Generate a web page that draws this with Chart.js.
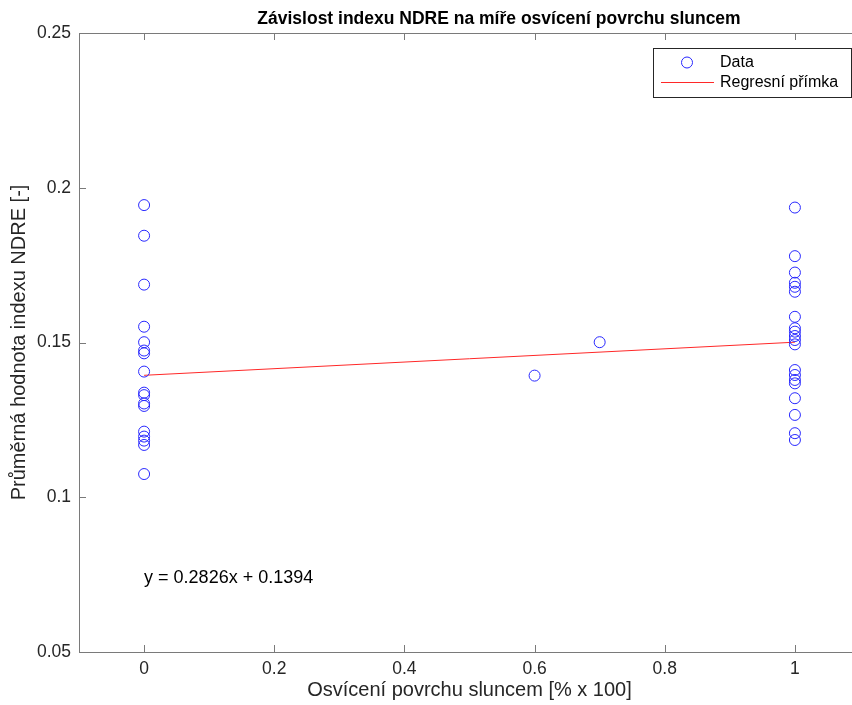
<!DOCTYPE html>
<html>
<head>
<meta charset="utf-8">
<script src="https://cdn.jsdelivr.net/npm/chart.js@4/dist/chart.umd.min.js"></script>
<style>
  html, body { margin: 0; padding: 0; background: #fff; overflow: hidden; }
  #wrap { width: 852px; height: 705px; overflow: hidden; }
</style>
</head>
<body>
<div id="wrap"><canvas id="myChart" width="870" height="705"></canvas></div>
<script>
// sunlit share of the surface (0 = shade, 1 = full sun) and mean NDRE per plot
const shadeNdre = [0.1944, 0.1845, 0.1687, 0.1551, 0.1501, 0.1474, 0.1465, 0.1406, 0.1338,
                   0.1330, 0.1303, 0.1295, 0.1212, 0.1196, 0.1183, 0.1169, 0.1075]
const partialSun = [0.6, 0.7]
const partialNdre = [0.1393, 0.1501]
const sunNdre = [0.1936, 0.1779, 0.1726, 0.1693, 0.1680, 0.1664, 0.1583, 0.1546, 0.1535, 0.1521,
                 0.1508, 0.1494, 0.1411, 0.1395, 0.1379, 0.1368, 0.1320, 0.1266, 0.1207, 0.1185]

const regX = [0, 1]
const regY = [0.1394, 0.1501]
const equationText = 'y = 0.2826x + 0.1394'
const equationAt = [0, 0.074]

const xTicks = [0, 0.2, 0.4, 0.6, 0.8, 1]
const yTicks = [0.05, 0.1, 0.15, 0.2, 0.25]

const FONT = '"Liberation Sans", Arial, Helvetica, sans-serif'
const TEXT = '#262626'
const AXIS = '#7a7a7a'

const points = [
  ...shadeNdre.map(v => ({ x: 0, y: v })),
  ...partialSun.map((s, i) => ({ x: s, y: partialNdre[i] })),
  ...sunNdre.map(v => ({ x: 1, y: v }))
]

// matlab style box with inward ticks on all four sides
const boxAxes = {
  id: 'boxAxes',
  afterDatasetsDraw(chart) {
    const { ctx, chartArea: a, scales: { x, y } } = chart
    const len = 7
    ctx.save()
    ctx.strokeStyle = AXIS
    ctx.lineWidth = 1
    ctx.beginPath()
    ctx.rect(Math.round(a.left) + 0.5, Math.round(a.top) + 0.5,
             Math.round(a.right - a.left), Math.round(a.bottom - a.top))
    xTicks.forEach(v => {
      const px = Math.round(x.getPixelForValue(v)) + 0.5
      ctx.moveTo(px, a.bottom); ctx.lineTo(px, a.bottom - len)
      ctx.moveTo(px, a.top); ctx.lineTo(px, a.top + len)
    })
    yTicks.forEach(v => {
      const py = Math.round(y.getPixelForValue(v)) + 0.5
      ctx.moveTo(a.left, py); ctx.lineTo(a.left + len, py)
      ctx.moveTo(a.right, py); ctx.lineTo(a.right - len, py)
    })
    ctx.stroke()
    ctx.restore()
  }
}

const extras = {
  id: 'extras',
  afterDraw(chart) {
    const { ctx, scales: { x, y } } = chart
    ctx.save()
    // title
    ctx.fillStyle = '#000'
    ctx.font = 'bold 17.5px ' + FONT
    ctx.textAlign = 'center'
    ctx.textBaseline = 'middle'
    ctx.fillText('Závislost indexu NDRE na míře osvícení povrchu sluncem', 499, 19)

    // regression equation
    ctx.font = '18px ' + FONT
    ctx.textAlign = 'left'
    ctx.fillText(equationText, x.getPixelForValue(equationAt[0]), y.getPixelForValue(equationAt[1]))

    // legend
    const lx = 653.5, ly = 48.5, lw = 198, lh = 49
    ctx.fillStyle = '#fff'
    ctx.fillRect(lx, ly, lw, lh)
    ctx.strokeStyle = '#262626'
    ctx.lineWidth = 1
    ctx.strokeRect(lx, ly, lw, lh)
    ctx.font = '16px ' + FONT
    chart.data.datasets.forEach((ds, i) => {
      const cy = ly + 14 + i * 20
      ctx.strokeStyle = ds.borderColor
      ctx.beginPath()
      if (ds.type === 'line') {
        ctx.moveTo(661, cy); ctx.lineTo(714, cy)
      } else {
        ctx.arc(687, cy, ds.pointRadius, 0, Math.PI * 2)
      }
      ctx.stroke()
      ctx.fillStyle = '#000'
      ctx.fillText(ds.label, 720, cy)
    })
    ctx.restore()
  }
}

const ctx = document.getElementById('myChart').getContext('2d')
new Chart(ctx, {
  data: {
    datasets: [
      {
        type: 'scatter',
        label: 'Data',
        data: points,
        borderColor: 'rgb(40,40,255)',
        backgroundColor: 'rgba(0,0,0,0)',
        borderWidth: 1,
        pointRadius: 5.5,
        pointHoverRadius: 5.5
      },
      {
        type: 'line',
        label: 'Regresní přímka',
        data: regX.map((v, i) => ({ x: v, y: regY[i] })),
        borderColor: 'rgb(255,40,40)',
        borderWidth: 1,
        pointRadius: 0,
        fill: false
      }
    ]
  },
  options: {
    responsive: false,
    animation: false,
    devicePixelRatio: 1,
    layout: { padding: { top: 33, right: 10, left: 0, bottom: 0 } },
    plugins: { legend: { display: false }, tooltip: { enabled: false } },
    scales: {
      x: {
        type: 'linear',
        min: -0.1,
        max: 1.1,
        grid: { display: false, drawTicks: false },
        border: { display: false },
        afterBuildTicks: s => { s.ticks = xTicks.map(v => ({ value: v })) },
        afterFit: s => { s.height = 53 },
        ticks: {
          color: TEXT,
          font: { family: FONT, size: 17.5 },
          padding: 7,
          maxRotation: 0,
          callback: v => String(v)
        },
        title: {
          display: true,
          text: 'Osvícení povrchu sluncem [% x 100]',
          color: TEXT,
          font: { family: FONT, size: 20 },
          padding: { top: 0, bottom: 3 }
        }
      },
      y: {
        type: 'linear',
        min: 0.05,
        max: 0.25,
        grid: { display: false, drawTicks: false },
        border: { display: false },
        afterBuildTicks: s => { s.ticks = yTicks.map(v => ({ value: v })) },
        afterFit: s => { s.width = 79 },
        ticks: {
          color: TEXT,
          font: { family: FONT, size: 17.5 },
          padding: 8,
          callback: v => String(v)
        },
        title: {
          display: true,
          text: 'Průměrná hodnota indexu NDRE [-]',
          color: TEXT,
          font: { family: FONT, size: 20 },
          padding: { top: 7, bottom: 0 }
        }
      }
    }
  },
  plugins: [boxAxes, extras]
})
</script>
</body>
</html>
